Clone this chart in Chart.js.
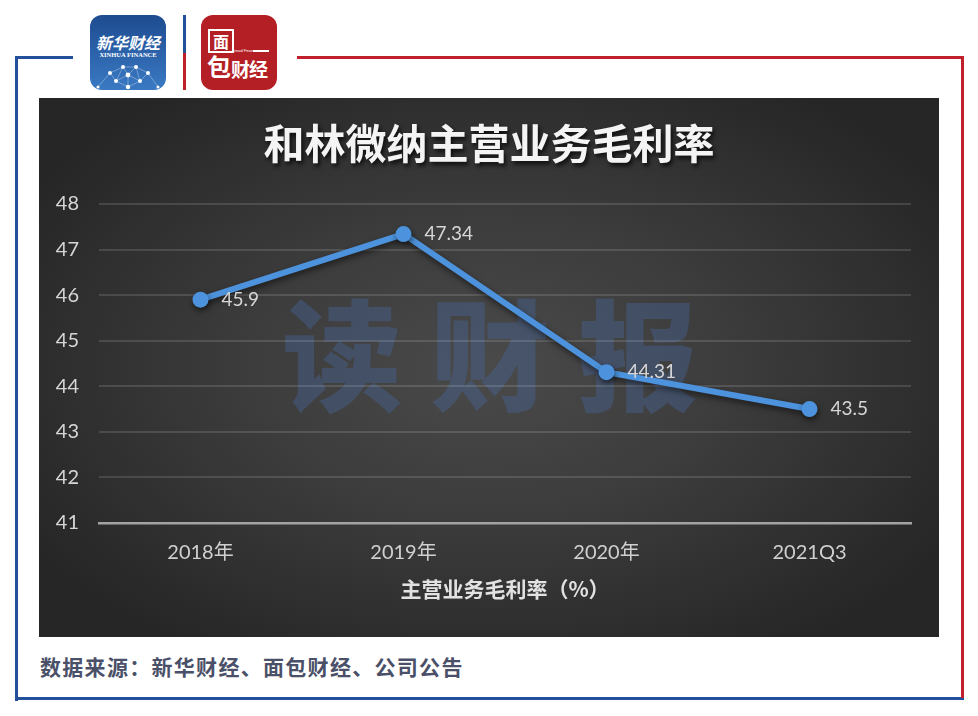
<!DOCTYPE html>
<html>
<head>
<meta charset="utf-8">
<script src="https://cdn.jsdelivr.net/npm/chart.js@4.4.1/dist/chart.umd.min.js"></script>
<style>
  html, body { margin: 0; padding: 0; background: #fff; }
  body { width: 978px; height: 716px; position: relative; overflow: hidden; font-family: "Noto Sans CJK SC", sans-serif; }
  .ln { position: absolute; }
  .blue { background: #22509b; }
  .red { background: #c0202a; }
  .logo { position: absolute; top: 15px; width: 76px; height: 75px; border-radius: 12px; overflow: hidden; color: #fff; }
  #logoXinhua { left: 90px; background: linear-gradient(#1d4b90, #3a7ac3); }
  #logoXinhua .cn { position: absolute; top: 15px; left: 0; width: 76px; text-align: center; font: italic 700 16px "Noto Sans CJK SC"; }
  #logoXinhua .en { position: absolute; top: 36px; left: 0; width: 76px; text-align: center; font: 700 6.5px "Liberation Serif"; }
  #logoXinhua svg { position: absolute; left: 0; top: 44px; }
  #logoBread { left: 201px; background: #b41f25; }
  #logoBread .mian { position: absolute; left: 7px; top: 14px; width: 22px; height: 20px; border: 2px solid #fff; font: 700 16px/20px "Noto Sans CJK SC"; text-align: center; }
  #logoBread .bao { position: absolute; left: 6px; top: 38px; font: 700 24px/26px "Noto Sans CJK SC"; }
  #logoBread .cj { position: absolute; left: 30px; top: 44px; font: 700 19px/20px "Noto Sans CJK SC"; letter-spacing: -1px; }
  #logoBread .bf { position: absolute; left: 31px; top: 33px; font: 4px "Liberation Sans"; }
  #logoBread .bar { position: absolute; left: 52px; top: 35px; width: 16px; height: 2px; background: #fff; }
  #panel { position: absolute; left: 39px; top: 98px; width: 900px; height: 539px;
    background: radial-gradient(ellipse 60% 62% at 50% 50%, #4a4a4a 0%, #3c3c3c 45%, #262626 100%); }
  #watermark { position: absolute; left: 243px; top: 192px; font: 900 120px/1 "Noto Sans CJK SC"; letter-spacing: 28px;
    color: rgba(70, 105, 165, 0.36); white-space: nowrap; }
  #chart { position: absolute; left: 0; top: 0; }
  #source { position: absolute; left: 40px; top: 651px; font: 700 21px/30px "Noto Sans CJK SC"; color: #4a5068; letter-spacing: 1.3px; }
</style>
</head>
<body>
  <!-- frame -->
  <div class="ln blue" style="left:15px;top:56px;width:58px;height:3px;"></div>
  <div class="ln blue" style="left:15px;top:56px;width:3px;height:645px;"></div>
  <div class="ln blue" style="left:15px;top:697px;width:949px;height:3px;"></div>
  <div class="ln red" style="left:297px;top:56px;width:667px;height:3px;"></div>
  <div class="ln red" style="left:961px;top:56px;width:3px;height:642px;"></div>
  <div class="ln blue" style="left:183px;top:15px;width:3px;height:38px;"></div>
  <div class="ln red" style="left:183px;top:53px;width:3px;height:37px;"></div>

  <div class="logo" id="logoXinhua">
    <div class="cn">新华财经</div>
    <div class="en">XINHUA FINANCE</div>
    <svg width="76" height="31" viewBox="0 0 76 31">
      <g stroke="rgba(255,255,255,0.55)" stroke-width="0.6" fill="none">
        <path d="M8 28 L20 14 L33 8 L46 8 L58 14 L68 28 M20 14 L26 22 L38 28 L50 22 L58 14 M33 8 L26 22 M46 8 L50 22 M38 16 L26 22 M38 16 L50 22 M38 16 L38 28 M33 8 L38 16 L46 8"/>
      </g>
      <g fill="#fff">
        <circle cx="20" cy="14" r="2"/><circle cx="33" cy="8" r="2"/><circle cx="46" cy="8" r="2"/>
        <circle cx="58" cy="14" r="2"/><circle cx="38" cy="16" r="2.4"/><circle cx="26" cy="22" r="2"/>
        <circle cx="50" cy="22" r="2"/><circle cx="38" cy="28" r="2.2"/><circle cx="8" cy="28" r="1.5"/><circle cx="68" cy="28" r="1.5"/>
      </g>
    </svg>
  </div>
  <div class="logo" id="logoBread">
    <div class="mian">面</div>
    <div class="bao">包</div>
    <div class="bf">Bread Finance</div>
    <div class="bar"></div>
    <div class="cj">财经</div>
  </div>

  <div id="panel">
    <div id="watermark">读财报</div>
    <canvas id="chart" width="900" height="539"></canvas>
  </div>

  <div id="source">数据来源：新华财经、面包财经、公司公告</div>

<script>
const categories = ["2018年", "2019年", "2020年", "2021Q3"];
const marginValues = [45.9, 47.34, 44.31, 43.5];
const yMin = 41;
const yMax = 48;
const chartTitle = "和林微纳主营业务毛利率";
const axisTitle = "主营业务毛利率（%）";

const lineBlue = "#4c92dc";

// line + points get a soft drop shadow
const shadowPlugin = {
  id: "lineShadow",
  beforeDatasetsDraw(chart) {
    const ctx = chart.ctx;
    ctx.save();
    ctx.shadowColor = "rgba(0,0,0,0.55)";
    ctx.shadowBlur = 6;
    ctx.shadowOffsetX = 1;
    ctx.shadowOffsetY = 3;
  },
  afterDatasetsDraw(chart) {
    chart.ctx.restore();
  }
};

// values written to the right of each point
const valueLabels = {
  id: "valueLabels",
  afterDatasetsDraw(chart) {
    const ctx = chart.ctx;
    const meta = chart.getDatasetMeta(0);
    ctx.save();
    ctx.font = "19px Lato, 'Noto Sans', sans-serif";
    ctx.fillStyle = "#d6d6d6";
    ctx.textAlign = "left";
    ctx.textBaseline = "middle";
    meta.data.forEach((pt, i) => {
      ctx.fillText(String(marginValues[i]), pt.x + 21, pt.y);
    });
    ctx.restore();
  }
};

// title drawn by hand so it can carry a shadow; the title box only reserves the space
const shadowTitle = {
  id: "shadowTitle",
  afterDraw(chart) {
    const ctx = chart.ctx;
    ctx.save();
    ctx.font = "700 41px 'Noto Sans CJK SC'";
    ctx.fillStyle = "#f4f4f4";
    ctx.textAlign = "center";
    ctx.textBaseline = "middle";
    ctx.shadowColor = "rgba(0,0,0,0.75)";
    ctx.shadowBlur = 4;
    ctx.shadowOffsetX = 2;
    ctx.shadowOffsetY = 3;
    ctx.fillText(chartTitle, chart.width / 2, 45);
    ctx.restore();
  }
};

new Chart(document.getElementById("chart"), {
  type: "line",
  data: {
    labels: categories,
    datasets: [{
      data: marginValues,
      borderColor: lineBlue,
      backgroundColor: lineBlue,
      borderWidth: 6,
      pointRadius: 8,
      pointHoverRadius: 8,
      pointBorderWidth: 0,
      tension: 0,
      fill: false
    }]
  },
  options: {
    responsive: false,
    devicePixelRatio: 1,
    animation: false,
    layout: { padding: { left: 0, right: 28, top: 0, bottom: 0 } },
    plugins: {
      legend: { display: false },
      tooltip: { enabled: false },
      title: {
        display: true,
        text: chartTitle,
        color: "rgba(0,0,0,0)",
        font: { size: 40, weight: "bold", family: "'Noto Sans CJK SC'", lineHeight: 1.2 },
        padding: { top: 20.5, bottom: 37.5 }
      }
    },
    scales: {
      x: {
        offset: true,
        afterFit(scale) { scale.height = 114; },
        grid: { display: false, drawTicks: false },
        border: { display: true, color: "#a3a3a3", width: 2.5 },
        ticks: {
          color: "#d0d0d0",
          padding: 18,
          font: { size: 20, family: "Lato, 'Noto Sans CJK SC', sans-serif" }
        },
        title: {
          display: true,
          text: axisTitle,
          color: "#e2e2e2",
          font: { size: 21, weight: "bold", family: "'Noto Sans CJK SC'", lineHeight: 1.2 },
          padding: { top: 15, bottom: 35 }
        }
      },
      y: {
        min: yMin,
        max: yMax,
        afterFit(scale) { scale.width = 60; },
        grid: {
          drawTicks: false,
          color: ctx => ctx.tick && ctx.tick.value === yMin ? "rgba(0,0,0,0)" : "rgba(255,255,255,0.13)",
          lineWidth: 2
        },
        border: { display: false },
        ticks: {
          stepSize: 1,
          color: "#d6d6d6",
          padding: 20,
          font: { size: 20, family: "Lato, 'Noto Sans', sans-serif" }
        }
      }
    }
  },
  plugins: [shadowPlugin, valueLabels, shadowTitle]
});
</script>
</body>
</html>
